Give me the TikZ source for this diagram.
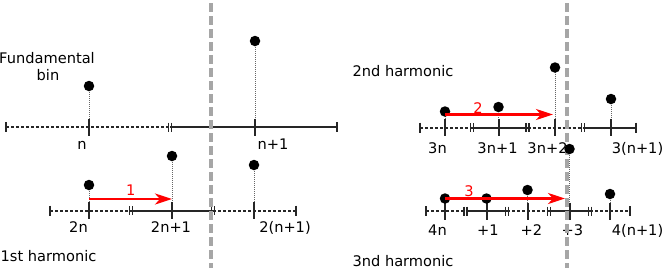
\documentclass[tikz,border=0pt]{standalone}
\usepackage{fontspec}
\setmainfont{DejaVu Sans}
\usetikzlibrary{arrows.meta}
\begin{document}
\begin{tikzpicture}[x=1pt,y=-1pt,
  txt/.style={font=\fontsize{14.6}{17}\selectfont, inner sep=0pt, anchor=base},
  redtxt/.style={txt, text=red},
  solidseg/.style={line width=2pt, black!85},
  dashseg/.style={line width=2pt, black!85, dash pattern=on 3pt off 2pt},
  stem/.style={line width=1pt, black!60, dash pattern=on 1pt off 1pt},
  dot/.style={circle, fill=black, minimum size=10.5pt, inner sep=0pt},
  shiftarrow/.style={draw=red, line width=2.6pt, -{Stealth[length=17pt,width=11pt,inset=5pt]}},
  divider/.style={draw=black!35, line width=3.4pt, dash pattern=on 9pt off 4pt},
  tk/.pic={\draw[line width=2pt, black!85] (0,-8.5) -- (0,8.5);},
  endcap/.pic={\draw[line width=2pt, black!85] (0,-5) -- (0,5);},
  dbl/.pic={\draw[line width=1.6pt, black!85] (-1.4,-4.5) -- (-1.4,4.5) (1.4,-4.5) -- (1.4,4.5);}
]
\useasboundingbox (0,0) rectangle (664,271);

% ---------- dot positions and axis points ----------
\coordinate (fa) at (89,86);    \coordinate (fa0) at (89,127);
\coordinate (fb) at (255,41);   \coordinate (fb0) at (255,127);
\coordinate (ha) at (89,185);   \coordinate (ha0) at (89,210.5);
\coordinate (hb) at (172,156);  \coordinate (hb0) at (172,210.5);
\coordinate (hc) at (254,165);  \coordinate (hc0) at (254,210.5);
\coordinate (sa) at (445,111.5);\coordinate (sa0) at (445,127.5);
\coordinate (sb) at (498.5,107);\coordinate (sb0) at (498.5,127.5);
\coordinate (sc) at (555,67.5); \coordinate (sc0) at (555,127.5);
\coordinate (sd) at (611,99);   \coordinate (sd0) at (611,127.5);
\coordinate (ta) at (445,198.5);\coordinate (ta0) at (445,211);
\coordinate (tb) at (486.5,198.5);\coordinate (tb0) at (486.5,211);
\coordinate (tc) at (527.5,190);\coordinate (tc0) at (527.5,211);
\coordinate (td) at (569.5,149);\coordinate (td0) at (569.5,211);
\coordinate (te) at (610,194);  \coordinate (te0) at (610,211);

% ---------- stems ----------
\foreach \p in {fa,fb,ha,hb,hc,sa,sb,sc,sd,ta,tb,tc,td,te}
  \draw[stem] (\p) -- (\p0);

% ---------- fundamental axis ----------
\draw[dashseg] (6,127) -- (170,127);
\draw[solidseg] (170,127) -- (337,127);
\pic at (6,127) {endcap}; \pic at (337,127) {endcap};
\pic at (170,127) {dbl};
\pic at (fa0) {tk}; \pic at (fb0) {tk};

% ---------- 1st harmonic axis ----------
\draw[dashseg] (50,210.5) -- (131,210.5);
\draw[solidseg] (131,210.5) -- (213,210.5);
\draw[dashseg] (213,210.5) -- (296,210.5);
\pic at (50,210.5) {endcap}; \pic at (296,210.5) {endcap};
\pic at (131,210.5) {dbl}; \pic at (213,210.5) {dbl};
\pic at (ha0) {tk}; \pic at (hb0) {tk}; \pic at (hc0) {tk};

% ---------- 2nd harmonic axis ----------
\draw[dashseg] (420,127.5) -- (472,127.5);
\draw[solidseg] (472,127.5) -- (527.5,127.5);
\draw[dashseg] (527.5,127.5) -- (583,127.5);
\draw[solidseg] (583,127.5) -- (636,127.5);
\pic at (420,127.5) {endcap}; \pic at (636,127.5) {endcap};
\pic at (472,127.5) {dbl}; \pic at (527.5,127.5) {dbl}; \pic at (583,127.5) {dbl};
\pic at (sa0) {tk}; \pic at (sb0) {tk}; \pic at (sc0) {tk}; \pic at (sd0) {tk};

% ---------- 3rd harmonic axis ----------
\draw[dashseg] (426,211) -- (465.5,211);
\draw[solidseg] (465.5,211) -- (507,211);
\draw[dashseg] (507,211) -- (549,211);
\draw[solidseg] (549,211) -- (590,211);
\draw[dashseg] (590,211) -- (630,211);
\pic at (426,211) {endcap}; \pic at (630,211) {endcap};
\pic at (465.5,211) {dbl}; \pic at (507,211) {dbl}; \pic at (549,211) {dbl}; \pic at (590,211) {dbl};
\pic at (ta0) {tk}; \pic at (tb0) {tk}; \pic at (tc0) {tk}; \pic at (td0) {tk}; \pic at (te0) {tk};

% ---------- texts ----------
\node[txt] (tfund) at (47,63) {Fundamental};
\node[txt] (tbin) at (48,80) {bin};
\node[txt] (tfirst) at (48.5,261) {1st harmonic};
\node[txt] (tsecond) at (403,76) {2nd harmonic};
\node[txt] (tthird) at (403,266) {3nd harmonic};

\node[txt] (ln) at (82,149) {n};
\node[txt] (lnp) at (273,149) {n+1};
\node[txt] (l2n) at (78.5,232) {2n};
\node[txt] (l2np) at (171,232) {2n+1};
\node[txt] (l2nn) at (285,232) {2(n+1)};
\node[txt] (l3n) at (437.5,153) {3n};
\node[txt] (l3np) at (497.5,153) {3n+1};
\node[txt] (l3npp) at (547.5,153) {3n+2};
\node[txt] (l3nn) at (637.5,153) {3(n+1)};
\node[txt] (l4n) at (437.5,235) {4n};
\node[txt] (l4a) at (488,235) {+1};
\node[txt] (l4b) at (531.5,235) {+2};
\node[txt] (l4c) at (572.5,235) {+3};
\node[txt] (l4nn) at (637.5,235) {4(n+1)};

% ---------- dividers ----------
\coordinate (dl1) at (211,3); \coordinate (dl2) at (211,268);
\coordinate (dr1) at (567,3); \coordinate (dr2) at (567,268);
\draw[divider] (dl1) -- (dl2);
\draw[divider] (dr1) -- (dr2);

% ---------- dots ----------
\foreach \p in {fa,fb,ha,hb,hc,sa,sb,sc,sd,ta,tb,tc,td,te}
  \node[dot] (D\p) at (\p) {};

% ---------- shift arrows ----------
\coordinate (a1s) at (89,199);    \coordinate (a1e) at (172,199);
\coordinate (a2s) at (445,114.5); \coordinate (a2e) at (553,114.5);
\coordinate (a3s) at (445,198.5); \coordinate (a3e) at (565,198.5);
\draw[shiftarrow] (a1s) -- (a1e);
\draw[shiftarrow] (a2s) -- (a2e);
\draw[shiftarrow] (a3s) -- (a3e);
\node[redtxt] (r1) at (130.7,195.5) {1};
\node[redtxt] (r2) at (478,113) {2};
\node[redtxt] (r3) at (469,196) {3};
\end{tikzpicture}
\end{document}
